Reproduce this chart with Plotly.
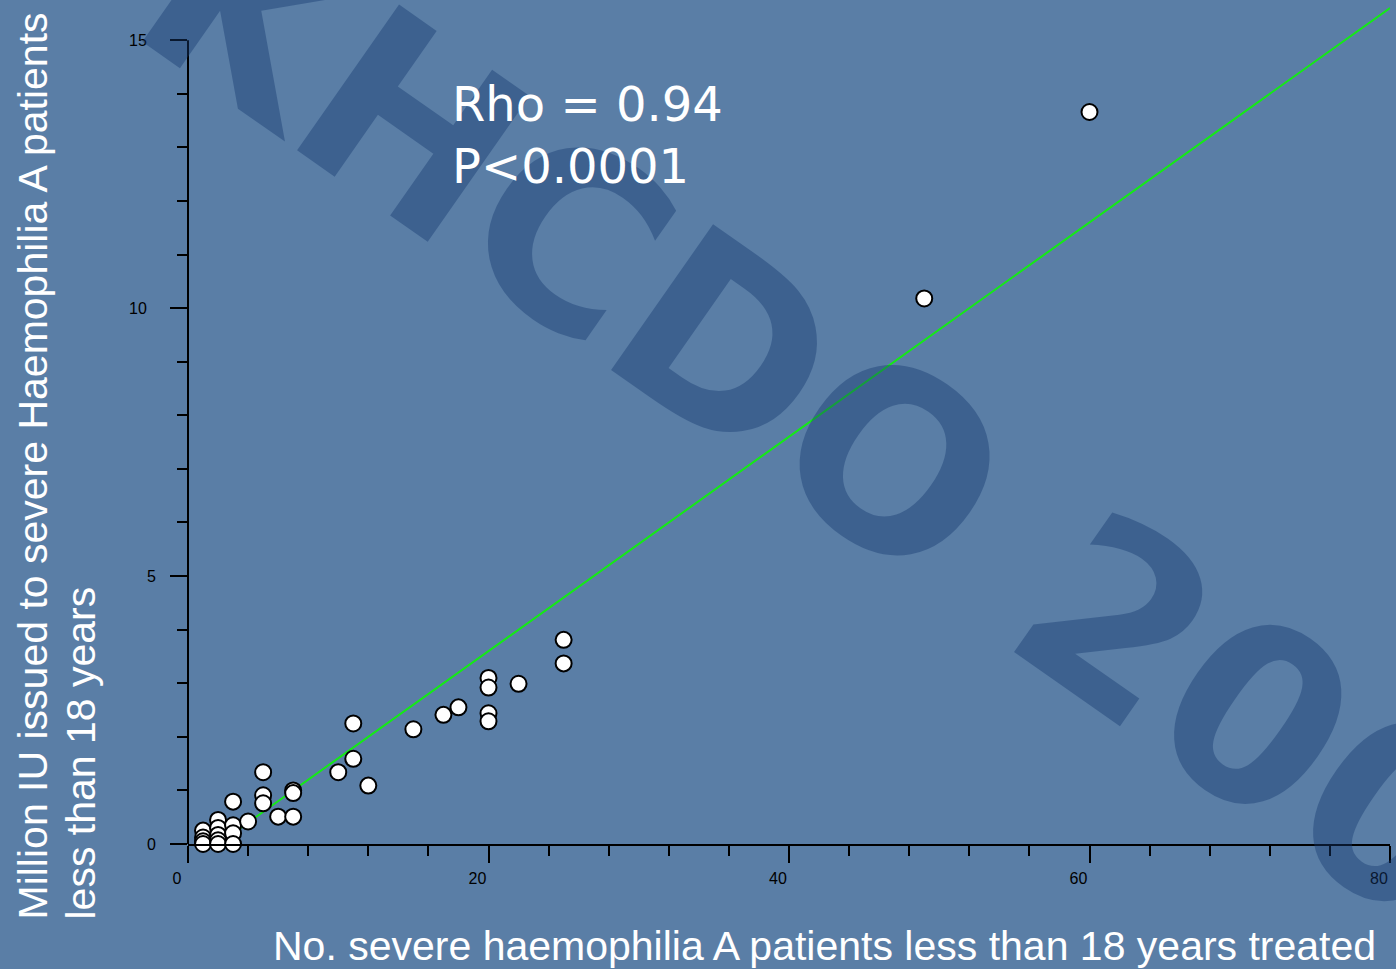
import plotly.graph_objects as go

# ---- data ----
patients = [1, 1, 1, 1, 2, 2, 2, 2, 2, 3, 3, 3, 3, 4, 5, 5, 5, 6, 7, 7, 7,
            10, 11, 11, 12, 15, 17, 18, 20, 20, 20, 20, 22, 25, 25, 49, 60]
million_iu = [0.25, 0.12, 0.05, 0.0, 0.45, 0.30, 0.17, 0.07, 0.0, 0.79, 0.35, 0.20, 0.0,
              0.42, 1.34, 0.91, 0.76, 0.51, 1.00, 0.95, 0.51,
              1.34, 1.59, 2.25, 1.09, 2.14, 2.41, 2.55, 3.10, 2.92, 2.44, 2.29, 2.99,
              3.81, 3.37, 10.18, 13.66]

fit_slope = 0.20
fit_intercept = -0.40
fit_x = [2, 80]
fit_y = [fit_slope * v + fit_intercept for v in fit_x]

x_tickvals = [0, 20, 40, 60, 80]
x_ticktext = ["0", "20", "40", "60", "80"]
y_tickvals = [0, 5, 10, 15]
# two-digit labels sit a little further left in the original export
y_ticktext = ["0", "5", "10\u2007", "15\u2007"]

stat_text = "Rho = 0.94<br>P<0.0001"
watermark = "UKHCDO 2006"
x_title = "No. severe haemophilia A patients less than 18 years treated"
y_title_1 = "Million IU issued to severe Haemophilia A patients"
y_title_2 = "less than 18 years"

# ---- layout geometry (pixels) ----
W, H = 1396, 969
L, R, T, B = 188, 6, 0, 125
PW, PH = W - L - R, H - T - B
Y_TOP = 15.75


def px_x(p):
    return (p - L) / PW


def px_y(p):
    return (H - B - p) / PH


BG = "#5a7ea6"

fig = go.Figure()

fig.add_trace(go.Scatter(
    x=fit_x, y=fit_y, mode="lines",
    line=dict(color="rgb(20,235,20)", width=2),
    hoverinfo="skip", showlegend=False))

fig.add_trace(go.Scatter(
    x=patients, y=million_iu, mode="markers",
    marker=dict(size=16, color="white", line=dict(color="black", width=2)),
    cliponaxis=False, showlegend=False))

axis_font = dict(family="Liberation Sans, Arial, sans-serif", size=16, color="black")

fig.update_xaxes(
    range=[0, 80], showgrid=False, zeroline=False,
    showline=True, linecolor="black", linewidth=2,
    tickmode="array", tickvals=x_tickvals, ticktext=x_ticktext,
    ticks="outside", ticklen=17, tickwidth=2, tickcolor="black",
    tickfont=axis_font, ticklabelshift=-11, ticklabelstandoff=2,
    minor=dict(tickmode="linear", tick0=0, dtick=4, ticks="outside",
               ticklen=10, tickwidth=2, tickcolor="black", showgrid=False),
)
fig.update_yaxes(
    range=[0, Y_TOP], showgrid=False, zeroline=False, showline=False,
    tickmode="array", tickvals=y_tickvals, ticktext=y_ticktext,
    ticks="outside", ticklen=17, tickwidth=2, tickcolor="black",
    tickfont=axis_font, ticklabelstandoff=11,
    minor=dict(tickmode="linear", tick0=0, dtick=1, ticks="outside",
               ticklen=10, tickwidth=2, tickcolor="black", showgrid=False),
)

# y axis line stops at the top tick (15)
fig.add_shape(type="line", xref="paper", yref="paper",
              x0=0, x1=0, y0=0, y1=15 / Y_TOP,
              line=dict(color="black", width=2))

title_font = dict(family="Liberation Sans, Arial, sans-serif", size=41, color="white")

annotations = [
    dict(text=watermark, xref="paper", yref="paper",
         x=px_x(806), y=px_y(404), xanchor="center", yanchor="middle",
         textangle=35, showarrow=False,
         font=dict(family="DejaVu Sans", size=244, color="rgba(22,58,112,0.42)",
                   weight="bold")),
    dict(text=stat_text, xref="paper", yref="paper",
         x=px_x(450), y=px_y(74), xanchor="left", yanchor="top", align="left",
         showarrow=False,
         font=dict(family="DejaVu Sans", size=48, color="white")),
    dict(text=x_title, xref="paper", yref="paper",
         x=px_x(1378), y=px_y(946), xanchor="right", yanchor="middle",
         showarrow=False, font=title_font),
    dict(text=y_title_1, xref="paper", yref="paper",
         x=px_x(32), y=px_y(922), xanchor="center", yanchor="bottom",
         textangle=-90, showarrow=False, font=title_font),
    dict(text=y_title_2, xref="paper", yref="paper",
         x=px_x(80), y=px_y(922), xanchor="center", yanchor="bottom",
         textangle=-90, showarrow=False, font=title_font),
]

fig.update_layout(
    width=W, height=H,
    margin=dict(l=L, r=R, t=T, b=B),
    paper_bgcolor=BG, plot_bgcolor=BG,
    showlegend=False,
    annotations=annotations,
)

fig.write_html(
    "out.html",
    config={"displayModeBar": False},
    post_script="document.body.style.margin='0';document.body.style.overflow='hidden';",
)
